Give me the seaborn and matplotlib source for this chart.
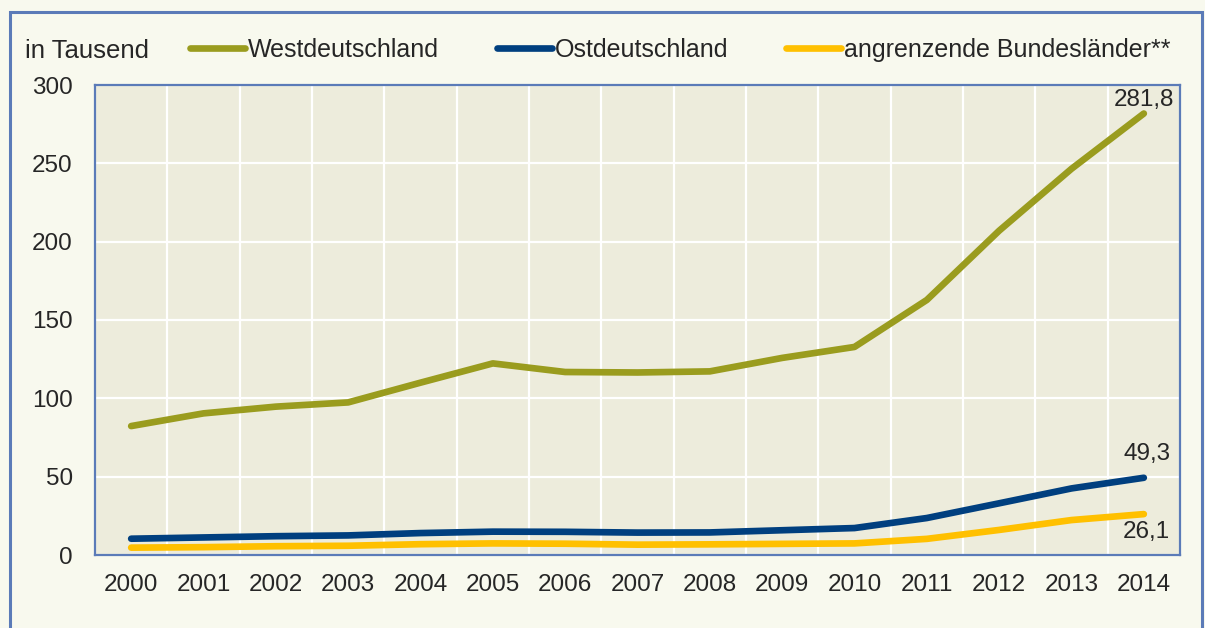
import numpy as np
import pandas as pd
import matplotlib
matplotlib.use("Agg")
import matplotlib.pyplot as plt
from matplotlib.patches import Rectangle
import seaborn as sns

# Daten (in Tausend)
jahre = list(range(2000, 2015))
west = [82.3, 90.4, 94.7, 97.4, 110.0, 122.3, 116.8, 116.5, 117.2, 125.8, 132.8, 162.8, 207.0, 246.5, 281.8]
ost = [10.4, 11.2, 12.0, 12.5, 14.0, 14.9, 14.8, 14.3, 14.4, 15.8, 17.2, 23.6, 33.0, 42.5, 49.3]
angrenzend = [4.7, 5.0, 5.6, 5.9, 6.9, 7.4, 7.2, 6.6, 6.8, 7.1, 7.4, 10.3, 16.0, 22.3, 26.1]
serien = ["Westdeutschland", "Ostdeutschland", "angrenzende Bundesländer**"]
farben = ["#9a9c1e", "#003f7f", "#ffc000"]

df = pd.DataFrame({
    "idx": list(range(len(jahre))) * 3,
    "wert": west + ost + angrenzend,
    "serie": [s for s in serien for _ in jahre],
})

sns.set_theme(style="white")
plt.rcParams["font.family"] = ["Liberation Sans", "DejaVu Sans"]

fig = plt.figure(figsize=(12.05, 6.28), dpi=100)
fig.patch.set_facecolor("#f8f9ee")
ax = fig.add_axes([95 / 1205, 73 / 628, 1085 / 1205, 470 / 628])
ax.set_facecolor("#edecdc")

# Rahmen um die Grafik
fig.patches.append(Rectangle((10 / 1205, -0.05), 1192 / 1205, 1.0 - 12 / 628 + 0.05,
                             transform=fig.transFigure, fill=False,
                             edgecolor="#5b7bb8", linewidth=2.2))

sns.lineplot(data=df, x="idx", y="wert", hue="serie", palette=farben,
             linewidth=4.8, ax=ax, legend=False, solid_capstyle="round")

ax.set_xlim(-0.5, len(jahre) - 0.5)
ax.set_ylim(0, 300)
ax.set_yticks(np.arange(0, 301, 50))
ax.set_xticks(np.arange(-0.5, len(jahre), 1.0))
ax.set_xticklabels([])
ax.set_xticks(range(len(jahre)), minor=True)
ax.set_xticklabels([str(j) for j in jahre], minor=True)
ax.tick_params(axis="x", which="minor", length=0, labelsize=17.5, pad=14)
ax.tick_params(axis="x", which="major", length=8, width=1.5, color="#5b7bb8", direction="out")
ax.tick_params(axis="y", length=7, width=1.5, color="#5b7bb8", direction="out", labelsize=17.5, pad=9)
ax.grid(True, which="major", color="white", linewidth=1.6)
ax.set_axisbelow(True)
for sp in ax.spines.values():
    sp.set_color("#5b7bb8")
    sp.set_linewidth(1.6)
ax.set_xlabel("")
ax.set_ylabel("")

# Beschriftung letzter Werte
letzter = len(jahre) - 1
ax.annotate("281,8", (letzter, west[-1]), xytext=(0, 2), textcoords="offset points",
            ha="center", va="bottom", fontsize=17.5)
ax.annotate("49,3", (letzter, ost[-1]), xytext=(2, 9), textcoords="offset points",
            ha="center", va="bottom", fontsize=17.5)
ax.annotate("26,1", (letzter, angrenzend[-1]), xytext=(2, -5), textcoords="offset points",
            ha="center", va="top", fontsize=17.5)

# Legende
fig.text(25 / 1205, 1 - 51 / 628, "in Tausend", fontsize=18.5, va="center", ha="left")
handles = [plt.Line2D([], [], color=c, linewidth=4.8, solid_capstyle="round") for c in farben]
leg = fig.legend(handles, serien, loc="center left", bbox_to_anchor=(190 / 1205, 1 - 50 / 628),
                 ncol=3, frameon=False, fontsize=18, handlelength=2.2, handletextpad=0.12,
                 columnspacing=2.3, borderpad=0, borderaxespad=0)

fig.savefig("out.png", dpi=100, facecolor=fig.get_facecolor())
